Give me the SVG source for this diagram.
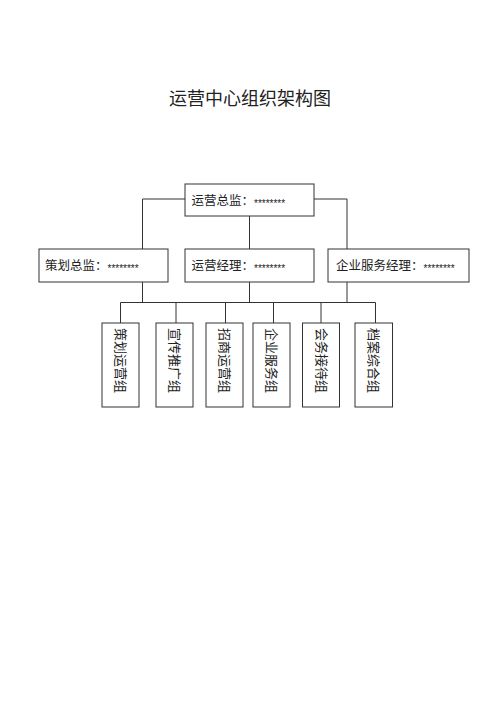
<svg xmlns="http://www.w3.org/2000/svg" width="500" height="708" viewBox="0 0 500 708">
<style>
.b{fill:#fff;stroke:#333;stroke-width:1}
.c{fill:none;stroke:#333;stroke-width:1}
.t{font-family:"Liberation Serif","Noto Sans CJK SC",serif;font-size:12.5px;fill:#222}
.s{font-family:"Liberation Sans",sans-serif;font-size:10px;fill:#222}
.v{font-family:"Liberation Serif","Noto Sans CJK SC",serif;font-size:13px;fill:#222;dominant-baseline:central}
.h{font-family:"Liberation Serif","Noto Sans CJK SC",serif;font-size:18px;fill:#222}
</style>
<rect width="500" height="708" fill="#fff"/>
<text class="h" x="250" y="105" text-anchor="middle">运营中心组织架构图</text>
<g id="connectors" class="c">
<path d="M185 199H142.5V249M314 199H347V249M249.5 216V249"/>
<path d="M142.5 282V302.5M249.5 282V302.5M347 282V302.5M120.5 302.5H375.5"/>
<path d="M120.5 302.5V323M176 302.5V323M225.5 302.5V323M273.5 302.5V323M321 302.5V323M375.5 302.5V323"/>
</g>
<g id="n0"><rect class="b" x="185" y="184" width="129" height="32"/><text class="t" x="191.5" y="205">运营总监：<tspan class="s" dy="2">********</tspan></text></g>
<g id="n1"><rect class="b" x="39" y="249" width="129" height="33"/><text class="t" x="45" y="270">策划总监：<tspan class="s" dy="2">********</tspan></text></g>
<g id="n2"><rect class="b" x="185" y="249" width="129" height="33"/><text class="t" x="191.5" y="270">运营经理：<tspan class="s" dy="2">********</tspan></text></g>
<g id="n3"><rect class="b" x="328" y="249" width="141" height="33"/><text class="t" x="336" y="270">企业服务经理：<tspan class="s" dy="2">********</tspan></text></g>
<g id="g1"><rect class="b" x="102" y="323" width="37" height="84"/><text class="v" x="120.5" y="328" transform="rotate(90 120.5 328)">策划运营组</text></g>
<g id="g2"><rect class="b" x="156" y="323" width="37" height="84"/><text class="v" x="174.5" y="328" transform="rotate(90 174.5 328)">宣传推广组</text></g>
<g id="g3"><rect class="b" x="206" y="323" width="37" height="84"/><text class="v" x="224.5" y="328" transform="rotate(90 224.5 328)">招商运营组</text></g>
<g id="g4"><rect class="b" x="253" y="323" width="37" height="84"/><text class="v" x="271.5" y="328" transform="rotate(90 271.5 328)">企业服务组</text></g>
<g id="g5"><rect class="b" x="302.5" y="323" width="37" height="84"/><text class="v" x="321" y="328" transform="rotate(90 321 328)">会务接待组</text></g>
<g id="g6"><rect class="b" x="355" y="323" width="37.5" height="84"/><text class="v" x="373.5" y="328" transform="rotate(90 373.5 328)">档案综合组</text></g>
</svg>
